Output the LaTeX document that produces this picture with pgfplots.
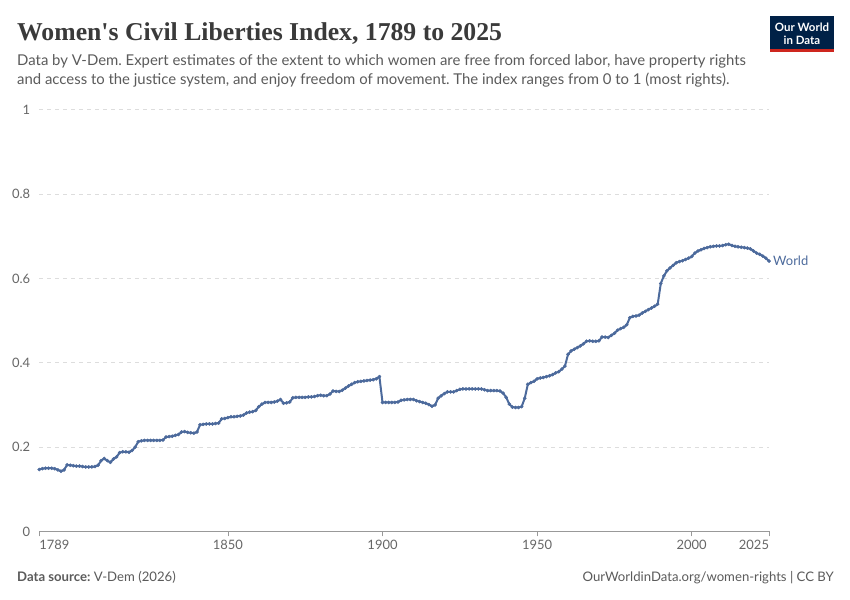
\documentclass[border=0pt]{standalone}
\usepackage{pgfplots}
\pgfplotsset{compat=1.18}
\usepackage{pgfplotstable}
\usepackage{fontspec}
\setmainfont{Lato}
\newfontfamily\titlefont{Liberation Serif}
\definecolor{owidblue}{HTML}{4C6A9C}
\definecolor{titlegray}{HTML}{3A3A3A}
\definecolor{subgray}{HTML}{5B5B5B}
\definecolor{tickgray}{HTML}{666666}
\definecolor{gridgray}{HTML}{DDDDDD}
\definecolor{axisgray}{HTML}{999999}
\definecolor{owidnavy}{HTML}{002147}
\definecolor{owidred}{HTML}{CE261E}
\pgfplotstableread{
year val
1789 0.147
1790 0.149
1791 0.150
1792 0.150
1793 0.150
1794 0.149
1795 0.146
1796 0.143
1797 0.146
1798 0.158
1799 0.157
1800 0.156
1801 0.155
1802 0.155
1803 0.154
1804 0.153
1805 0.153
1806 0.153
1807 0.154
1808 0.157
1809 0.168
1810 0.173
1811 0.168
1812 0.164
1813 0.172
1814 0.177
1815 0.187
1816 0.189
1817 0.189
1818 0.188
1819 0.192
1820 0.200
1821 0.213
1822 0.215
1823 0.216
1824 0.216
1825 0.216
1826 0.216
1827 0.216
1828 0.216
1829 0.217
1830 0.224
1831 0.225
1832 0.226
1833 0.228
1834 0.230
1835 0.236
1836 0.237
1837 0.235
1838 0.234
1839 0.233
1840 0.236
1841 0.253
1842 0.254
1843 0.255
1844 0.255
1845 0.255
1846 0.256
1847 0.257
1848 0.267
1849 0.268
1850 0.270
1851 0.272
1852 0.272
1853 0.273
1854 0.274
1855 0.276
1856 0.281
1857 0.283
1858 0.284
1859 0.287
1860 0.296
1861 0.302
1862 0.306
1863 0.306
1864 0.306
1865 0.307
1866 0.309
1867 0.313
1868 0.304
1869 0.305
1870 0.307
1871 0.317
1872 0.318
1873 0.318
1874 0.318
1875 0.318
1876 0.319
1877 0.319
1878 0.320
1879 0.322
1880 0.323
1881 0.322
1882 0.322
1883 0.326
1884 0.333
1885 0.332
1886 0.332
1887 0.335
1888 0.340
1889 0.345
1890 0.349
1891 0.353
1892 0.355
1893 0.356
1894 0.357
1895 0.358
1896 0.359
1897 0.360
1898 0.362
1899 0.367
1900 0.306
1901 0.306
1902 0.306
1903 0.306
1904 0.306
1905 0.307
1906 0.311
1907 0.312
1908 0.313
1909 0.313
1910 0.313
1911 0.310
1912 0.308
1913 0.306
1914 0.304
1915 0.301
1916 0.297
1917 0.300
1918 0.316
1919 0.322
1920 0.327
1921 0.331
1922 0.331
1923 0.331
1924 0.334
1925 0.337
1926 0.338
1927 0.338
1928 0.338
1929 0.338
1930 0.338
1931 0.338
1932 0.338
1933 0.336
1934 0.334
1935 0.334
1936 0.334
1937 0.334
1938 0.333
1939 0.328
1940 0.318
1941 0.302
1942 0.295
1943 0.294
1944 0.294
1945 0.296
1946 0.316
1947 0.349
1948 0.353
1949 0.356
1950 0.362
1951 0.364
1952 0.365
1953 0.367
1954 0.369
1955 0.372
1956 0.376
1957 0.379
1958 0.385
1959 0.392
1960 0.420
1961 0.428
1962 0.432
1963 0.436
1964 0.440
1965 0.445
1966 0.451
1967 0.452
1968 0.451
1969 0.451
1970 0.452
1971 0.461
1972 0.461
1973 0.460
1974 0.465
1975 0.470
1976 0.477
1977 0.481
1978 0.484
1979 0.490
1980 0.507
1981 0.510
1982 0.511
1983 0.513
1984 0.518
1985 0.522
1986 0.526
1987 0.530
1988 0.534
1989 0.539
1990 0.588
1991 0.606
1992 0.618
1993 0.625
1994 0.631
1995 0.637
1996 0.640
1997 0.642
1998 0.645
1999 0.648
2000 0.652
2001 0.660
2002 0.665
2003 0.668
2004 0.671
2005 0.673
2006 0.675
2007 0.676
2008 0.677
2009 0.677
2010 0.678
2011 0.680
2012 0.681
2013 0.678
2014 0.676
2015 0.675
2016 0.674
2017 0.673
2018 0.672
2019 0.670
2020 0.665
2021 0.660
2022 0.657
2023 0.653
2024 0.648
2025 0.641
}\worlddata
\begin{document}
\frenchspacing
\begin{tikzpicture}[x=1bp,y=1bp]
\useasboundingbox (0,0) rectangle (850,600);
\fill[white] (0,0) rectangle (850,600);
% title
\node[anchor=base west, inner sep=0, text=titlegray, font=\titlefont\bfseries\fontsize{25.8}{30}\selectfont] at (17,559) {Women's Civil Liberties Index, 1789 to 2025};
% subtitle
\node[anchor=base west, inner sep=0, text=subgray, font=\fontsize{14.95}{19}\selectfont] at (17,534) {Data by V-Dem. Expert estimates of the extent to which women are free from forced labor, have property rights};
\node[anchor=base west, inner sep=0, text=subgray, font=\fontsize{14.95}{19}\selectfont] at (17,515) {and access to the justice system, and enjoy freedom of movement. The index ranges from 0 to 1 (most rights).};
% logo
\fill[owidnavy] (770,548) rectangle (834,584);
\fill[owidred] (770,548) rectangle (834,551);
\node[text=white, font=\bfseries\fontsize{11.5}{12}\selectfont, inner sep=0] at (802,573) {Our World};
\node[text=white, font=\bfseries\fontsize{11.5}{12}\selectfont, inner sep=0] at (802,560) {in Data};
% footer
\node[anchor=base west, inner sep=0, text=subgray, font=\fontsize{13.2}{15}\selectfont] at (17,18) {\textbf{Data source:} V-Dem (2026)};
\node[anchor=base east, inner sep=0, text=subgray, font=\fontsize{13.2}{15}\selectfont] at (834,18) {OurWorldinData.org/women-rights | CC BY};
\begin{axis}[
  at={(39.3bp,68.5bp)}, anchor=south west,
  scale only axis, width=729.7bp, height=421.8bp,
  xmin=1789, xmax=2025, ymin=0, ymax=1,
  clip=false,
  axis x line=bottom, axis y line=left,
  y axis line style={draw=none},
  x axis line style={draw=axisgray, line width=0.8bp, -},
  xtick={1789,1850,1900,1950,2000,2025},
  xticklabels={\rlap{1789},1850,1900,1950,2000,\llap{2025}},
  ytick={0,0.2,0.4,0.6,0.8,1},
  yticklabels={0,0.2,0.4,0.6,0.8,1},
  xtick style={draw=axisgray, line width=0.8bp},
  ytick style={draw=none},
  tick align=outside,
  major tick length=5bp,
  ymajorgrids,
  major grid style={draw=gridgray, line width=0.8bp, dash pattern=on 4bp off 4bp},
  ticklabel style={font=\fontsize{13}{15}\selectfont, text=tickgray},
  xticklabel style={anchor=north, inner sep=0, yshift=-3bp},
  yticklabel style={anchor=east, inner sep=0, xshift=-4bp},
]
\addplot[owidblue, line width=2bp, mark=*, mark size=1.6bp, mark options={fill=owidblue, draw=owidblue, line width=0.4bp}] table[x=year, y=val] {\worlddata};
\node[anchor=west, inner sep=0, text=owidblue, font=\fontsize{13}{15}\selectfont] at (axis cs:2025,0.641) [xshift=4bp] {World};
\end{axis}
\end{tikzpicture}
\end{document}
